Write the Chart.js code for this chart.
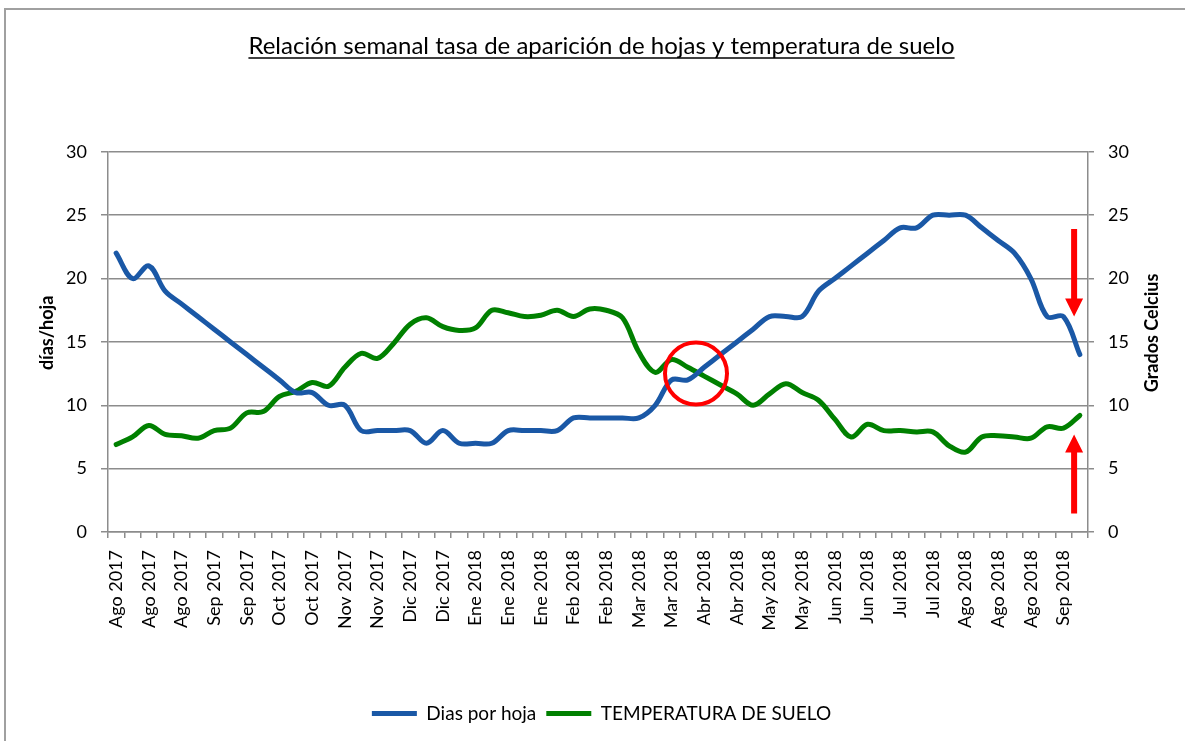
<!DOCTYPE html>
<html lang="es">
<head>
<meta charset="utf-8">
<title>Relación semanal tasa de aparición de hojas y temperatura de suelo</title>
<script src="https://cdn.jsdelivr.net/npm/chart.js@4.4.1/dist/chart.umd.min.js"></script>
<style>
    html, body { margin: 0; padding: 0; background: #ffffff; overflow: hidden; }
    #marco { position: absolute; left: 4px; top: 8px; width: 1300px; height: 900px; border: 2px solid #a0a0a0; }
    #semanal_chart { position: absolute; left: 0; top: 0; }
</style>
</head>
<body>
<div id="marco"></div>
<canvas id="semanal_chart" width="1185" height="741"></canvas>
<script>
// semanas (se muestra una etiqueta de cada dos)
const semanas = [
    'Ago 2017', 'Ago 2017', 'Ago 2017', 'Ago 2017', 'Ago 2017', 'Sep 2017', 'Sep 2017', 'Sep 2017', 'Sep 2017', 'Oct 2017',
    'Oct 2017', 'Oct 2017', 'Oct 2017', 'Nov 2017', 'Nov 2017', 'Nov 2017', 'Nov 2017', 'Dic 2017', 'Dic 2017', 'Dic 2017',
    'Dic 2017', 'Ene 2018', 'Ene 2018', 'Ene 2018', 'Ene 2018', 'Ene 2018', 'Ene 2018', 'Feb 2018', 'Feb 2018', 'Feb 2018',
    'Feb 2018', 'Mar 2018', 'Mar 2018', 'Mar 2018', 'Mar 2018', 'Abr 2018', 'Abr 2018', 'Abr 2018', 'Abr 2018', 'May 2018',
    'May 2018', 'May 2018', 'May 2018', 'Jun 2018', 'Jun 2018', 'Jun 2018', 'Jun 2018', 'Jul 2018', 'Jul 2018', 'Jul 2018',
    'Jul 2018', 'Ago 2018', 'Ago 2018', 'Ago 2018', 'Ago 2018', 'Ago 2018', 'Ago 2018', 'Sep 2018', 'Sep 2018', 'Sep 2018'
];

// Dias por hoja
const dias_por_hoja = [
    22, 20, 21, 19, 18, 17, 16, 15, 14, 13,
    12, 11, 11, 10, 10, 8, 8, 8, 8, 7,
    8, 7, 7, 7, 8, 8, 8, 8, 9, 9,
    9, 9, 9, 10, 12, 12, 13, 14, 15, 16,
    17, 17, 17, 19, 20, 21, 22, 23, 24, 24,
    25, 25, 25, 24, 23, 22, 20, 17, 17, 14
];

// TEMPERATURA DE SUELO
const temperatura_suelo = [
    6.9, 7.5, 8.4, 7.7, 7.6, 7.4, 8.0, 8.2, 9.4, 9.5,
    10.7, 11.1, 11.8, 11.5, 13.0, 14.1, 13.7, 14.9, 16.4, 16.9,
    16.2, 15.9, 16.1, 17.5, 17.3, 17.0, 17.1, 17.5, 17.0, 17.6,
    17.5, 16.9, 14.2, 12.6, 13.6, 13.0, 12.3, 11.6, 10.9, 10.0,
    10.9, 11.7, 11.0, 10.4, 8.9, 7.5, 8.5, 8.0, 8.0, 7.9,
    7.9, 6.8, 6.3, 7.5, 7.6, 7.5, 7.4, 8.3, 8.2, 9.2
];

// marcas de los ejes
const eje_min = 0;
const eje_max = 30;
const eje_paso = 5;

// anotaciones rojas (en unidades de los ejes)
const circulo_semana = 35.5;
const circulo_valor = 12.5;
const flecha_semana = 58.65;
const flecha_baja = [23.9, 17.0];
const flecha_alta = [1.45, 7.7];

const fuente = 'Lato, "Open Sans", sans-serif';
const gris = '#8c8c8c';
const titulo_texto = 'Relación semanal tasa de aparición de hojas y temperatura de suelo';
const titulo_size = 24;
const titulo_pad_top = 32;

// flecha roja rellena
function draw_arrow(ctx, x, y_from, y_tip){
    const dir = y_tip > y_from ? 1 : -1;
    const head = 18;
    ctx.beginPath();
    ctx.moveTo(x - 3, y_from);
    ctx.lineTo(x + 3, y_from);
    ctx.lineTo(x + 3, y_tip - dir * head);
    ctx.lineTo(x + 9, y_tip - dir * head);
    ctx.lineTo(x, y_tip);
    ctx.lineTo(x - 9, y_tip - dir * head);
    ctx.lineTo(x - 3, y_tip - dir * head);
    ctx.closePath();
    ctx.fill();
}

// dibuja titulos de ejes, subrayado y anotaciones
const extras_plugin = {
    id: 'extras',
    afterDatasetsDraw(chart){
        const ctx = chart.ctx;
        const x = chart.scales.x;
        const y = chart.scales.y;
        ctx.save();
        ctx.strokeStyle = '#ff0000';
        ctx.fillStyle = '#ff0000';
        ctx.lineWidth = 4;
        ctx.beginPath();
        ctx.arc(x.getPixelForValue(circulo_semana), y.getPixelForValue(circulo_valor), 31, 0, Math.PI * 2);
        ctx.stroke();
        const fx = x.getPixelForValue(flecha_semana);
        draw_arrow(ctx, fx, y.getPixelForValue(flecha_baja[0]), y.getPixelForValue(flecha_baja[1]));
        draw_arrow(ctx, fx, y.getPixelForValue(flecha_alta[0]), y.getPixelForValue(flecha_alta[1]));
        ctx.restore();
    },
    afterDraw(chart){
        const ctx = chart.ctx;
        const area = chart.chartArea;
        const mid = (area.top + area.bottom) / 2 - 9;
        ctx.save();
        ctx.fillStyle = '#000';
        ctx.font = 'bold 18px ' + fuente;
        ctx.textAlign = 'center';
        ctx.textBaseline = 'middle';
        // eje izquierdo
        ctx.save();
        ctx.translate(47, mid);
        ctx.rotate(-Math.PI / 2);
        ctx.fillText('días/hoja', 0, 0);
        ctx.restore();
        // eje derecho
        ctx.save();
        ctx.translate(1152, mid);
        ctx.rotate(-Math.PI / 2);
        ctx.fillText('Grados Celcius', 0, 0);
        ctx.restore();
        // subrayado del titulo
        const t = chart.titleBlock;
        ctx.font = titulo_size + 'px ' + fuente;
        const w = ctx.measureText(titulo_texto).width;
        const cx = (t.left + t.right) / 2;
        const uy = t.top + titulo_pad_top + titulo_size * 1.08;
        ctx.strokeStyle = '#000';
        ctx.lineWidth = 1.5;
        ctx.beginPath();
        ctx.moveTo(cx - w / 2, uy);
        ctx.lineTo(cx + w / 2, uy);
        ctx.stroke();
        ctx.restore();
    }
};

const canvas = document.getElementById('semanal_chart');
const ctx = canvas.getContext('2d');

new Chart(ctx, {
    type: 'line',
    data: {
        labels: semanas,
        datasets: [
            {
                label: 'Dias por hoja',
                data: dias_por_hoja,
                borderColor: '#1a58a6',
                backgroundColor: '#1a58a6',
                borderWidth: 5,
                borderCapStyle: 'round',
                pointRadius: 0,
                pointHoverRadius: 0,
                pointStyle: 'line',
                tension: 0.35,
                yAxisID: 'y'
            },
            {
                label: 'TEMPERATURA DE SUELO',
                data: temperatura_suelo,
                borderColor: '#008000',
                backgroundColor: '#008000',
                borderWidth: 5,
                borderCapStyle: 'round',
                pointRadius: 0,
                pointHoverRadius: 0,
                pointStyle: 'line',
                tension: 0.35,
                yAxisID: 'y1'
            }
        ]
    },
    options: {
        responsive: false,
        animation: false,
        devicePixelRatio: 1,
        layout: {
            padding: { left: 18, right: 0, top: 0, bottom: 8 }
        },
        scales: {
            x: {
                type: 'category',
                offset: true,
                grid: {
                    offset: true,
                    drawOnChartArea: false,
                    color: gris,
                    lineWidth: 1.5,
                    tickLength: 6
                },
                border: { color: gris, width: 1.5 },
                ticks: {
                    autoSkip: false,
                    minRotation: 90,
                    maxRotation: 90,
                    padding: 12,
                    color: '#000',
                    font: { family: fuente, size: 18 },
                    callback: function(value, index){
                        return index % 2 === 0 ? semanas[index] : '';
                    }
                },
                afterFit: function(scale){ scale.height = 162; }
            },
            y: {
                position: 'left',
                min: eje_min,
                max: eje_max,
                grid: { color: gris, lineWidth: 1.5, tickLength: 7 },
                border: { color: gris, width: 1.5 },
                ticks: {
                    stepSize: eje_paso,
                    padding: 14,
                    color: '#000',
                    font: { family: fuente, size: 18 }
                },
                afterFit: function(scale){ scale.width = 90; }
            },
            y1: {
                position: 'right',
                min: eje_min,
                max: eje_max,
                grid: { drawOnChartArea: false, color: gris, lineWidth: 1.5, tickLength: 6 },
                border: { color: gris, width: 1.5 },
                ticks: {
                    stepSize: eje_paso,
                    padding: 14,
                    color: '#000',
                    font: { family: fuente, size: 18 }
                },
                afterFit: function(scale){ scale.width = 97; }
            }
        },
        plugins: {
            title: {
                display: true,
                text: titulo_texto,
                color: '#000',
                font: { family: fuente, size: titulo_size, weight: 'normal' },
                padding: { top: titulo_pad_top, bottom: 91 }
            },
            legend: {
                position: 'bottom',
                labels: {
                    usePointStyle: true,
                    pointStyleWidth: 45,
                    color: '#000',
                    padding: 10,
                    font: { family: fuente, size: 19 }
                }
            },
            tooltip: { enabled: false }
        }
    },
    plugins: [extras_plugin]
});
</script>
</body>
</html>
